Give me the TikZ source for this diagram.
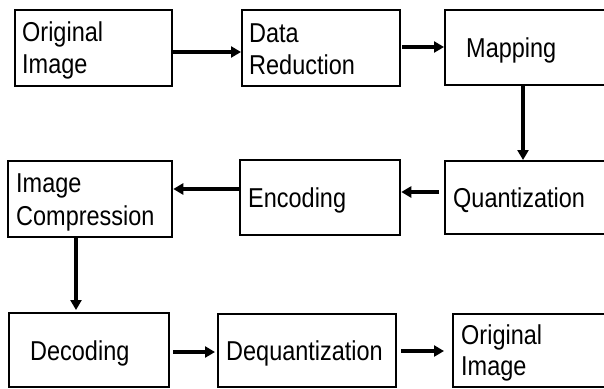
\documentclass[tikz,border=0pt]{standalone}
\usepackage{fontspec}
\setmainfont{Liberation Sans}
\newfontfamily\boxfont[FakeStretch=0.86]{Liberation Sans}
\usetikzlibrary{arrows.meta}
\begin{document}
\begin{tikzpicture}[x=1pt,y=-1pt,
  box/.style={draw=black,line width=2.3pt,inner sep=0pt,anchor=north west},
  txt/.style={inner sep=0pt,anchor=base west,font=\boxfont\fontsize{27.3}{32}\selectfont},
  arr/.style={line width=4pt,-{Triangle[length=10pt,width=11pt]}}]
\useasboundingbox (0,0) rectangle (604,388);
\clip (0,0) rectangle (604,388);
% boxes
\node[box,minimum width=157pt,minimum height=76pt] (o1) at (14,9) {};
\node[box,minimum width=158pt,minimum height=76pt] (dr) at (241,9) {};
\node[box,minimum width=180pt,minimum height=75pt] (mp) at (444,9) {};
\node[box,minimum width=180pt,minimum height=73pt] (qt) at (444,160) {};
\node[box,minimum width=160pt,minimum height=75pt] (en) at (239,159) {};
\node[box,minimum width=164pt,minimum height=76pt] (ic) at (7,160) {};
\node[box,minimum width=160pt,minimum height=74pt] (dc) at (8,312) {};
\node[box,minimum width=178pt,minimum height=73pt] (dq) at (217,313) {};
\node[box,minimum width=180pt,minimum height=73pt] (o2) at (452,313) {};
% texts
\node[txt] (t1a) at (22,41) {Original};
\node[txt] (t1b) at (22,73) {Image};
\node[txt] (t2a) at (249,42) {Data};
\node[txt] (t2b) at (249,74) {Reduction};
\node[txt] (t3) at (466,57) {Mapping};
\node[txt] (t4) at (453,207) {Quantization};
\node[txt] (t5) at (248,207) {Encoding};
\node[txt] (t6a) at (16,192) {Image};
\node[txt] (t6b) at (16,225) {Compression};
\node[txt] (t7) at (30,360) {Decoding};
\node[txt] (t8) at (226,360) {Dequantization};
\node[txt] (t9a) at (461,344) {Original};
\node[txt] (t9b) at (461,375) {Image};
% arrows
\draw[arr] (o1.east |- 0,52) -- (dr.west |- 0,52);
\draw[arr] ([xshift=1pt]dr.east |- 0,47) -- (mp.west |- 0,47);
\draw[arr] (mp.south -| 523,0) -- (qt.north -| 523,0);
\draw[arr] ([xshift=-5pt]qt.west |- 0,192) -- (en.east |- 0,192);
\draw[arr] (en.west |- 0,189) -- (ic.east |- 0,189);
\draw[arr] (ic.south -| 76,0) -- ([yshift=2pt]dc.north -| 76,0);
\draw[arr] ([xshift=3pt]dc.east |- 0,352) -- ([xshift=-2pt]dq.west |- 0,352);
\draw[arr] ([xshift=4pt]dq.east |- 0,351) -- ([xshift=-8pt]o2.west |- 0,351);
\end{tikzpicture}
\end{document}
